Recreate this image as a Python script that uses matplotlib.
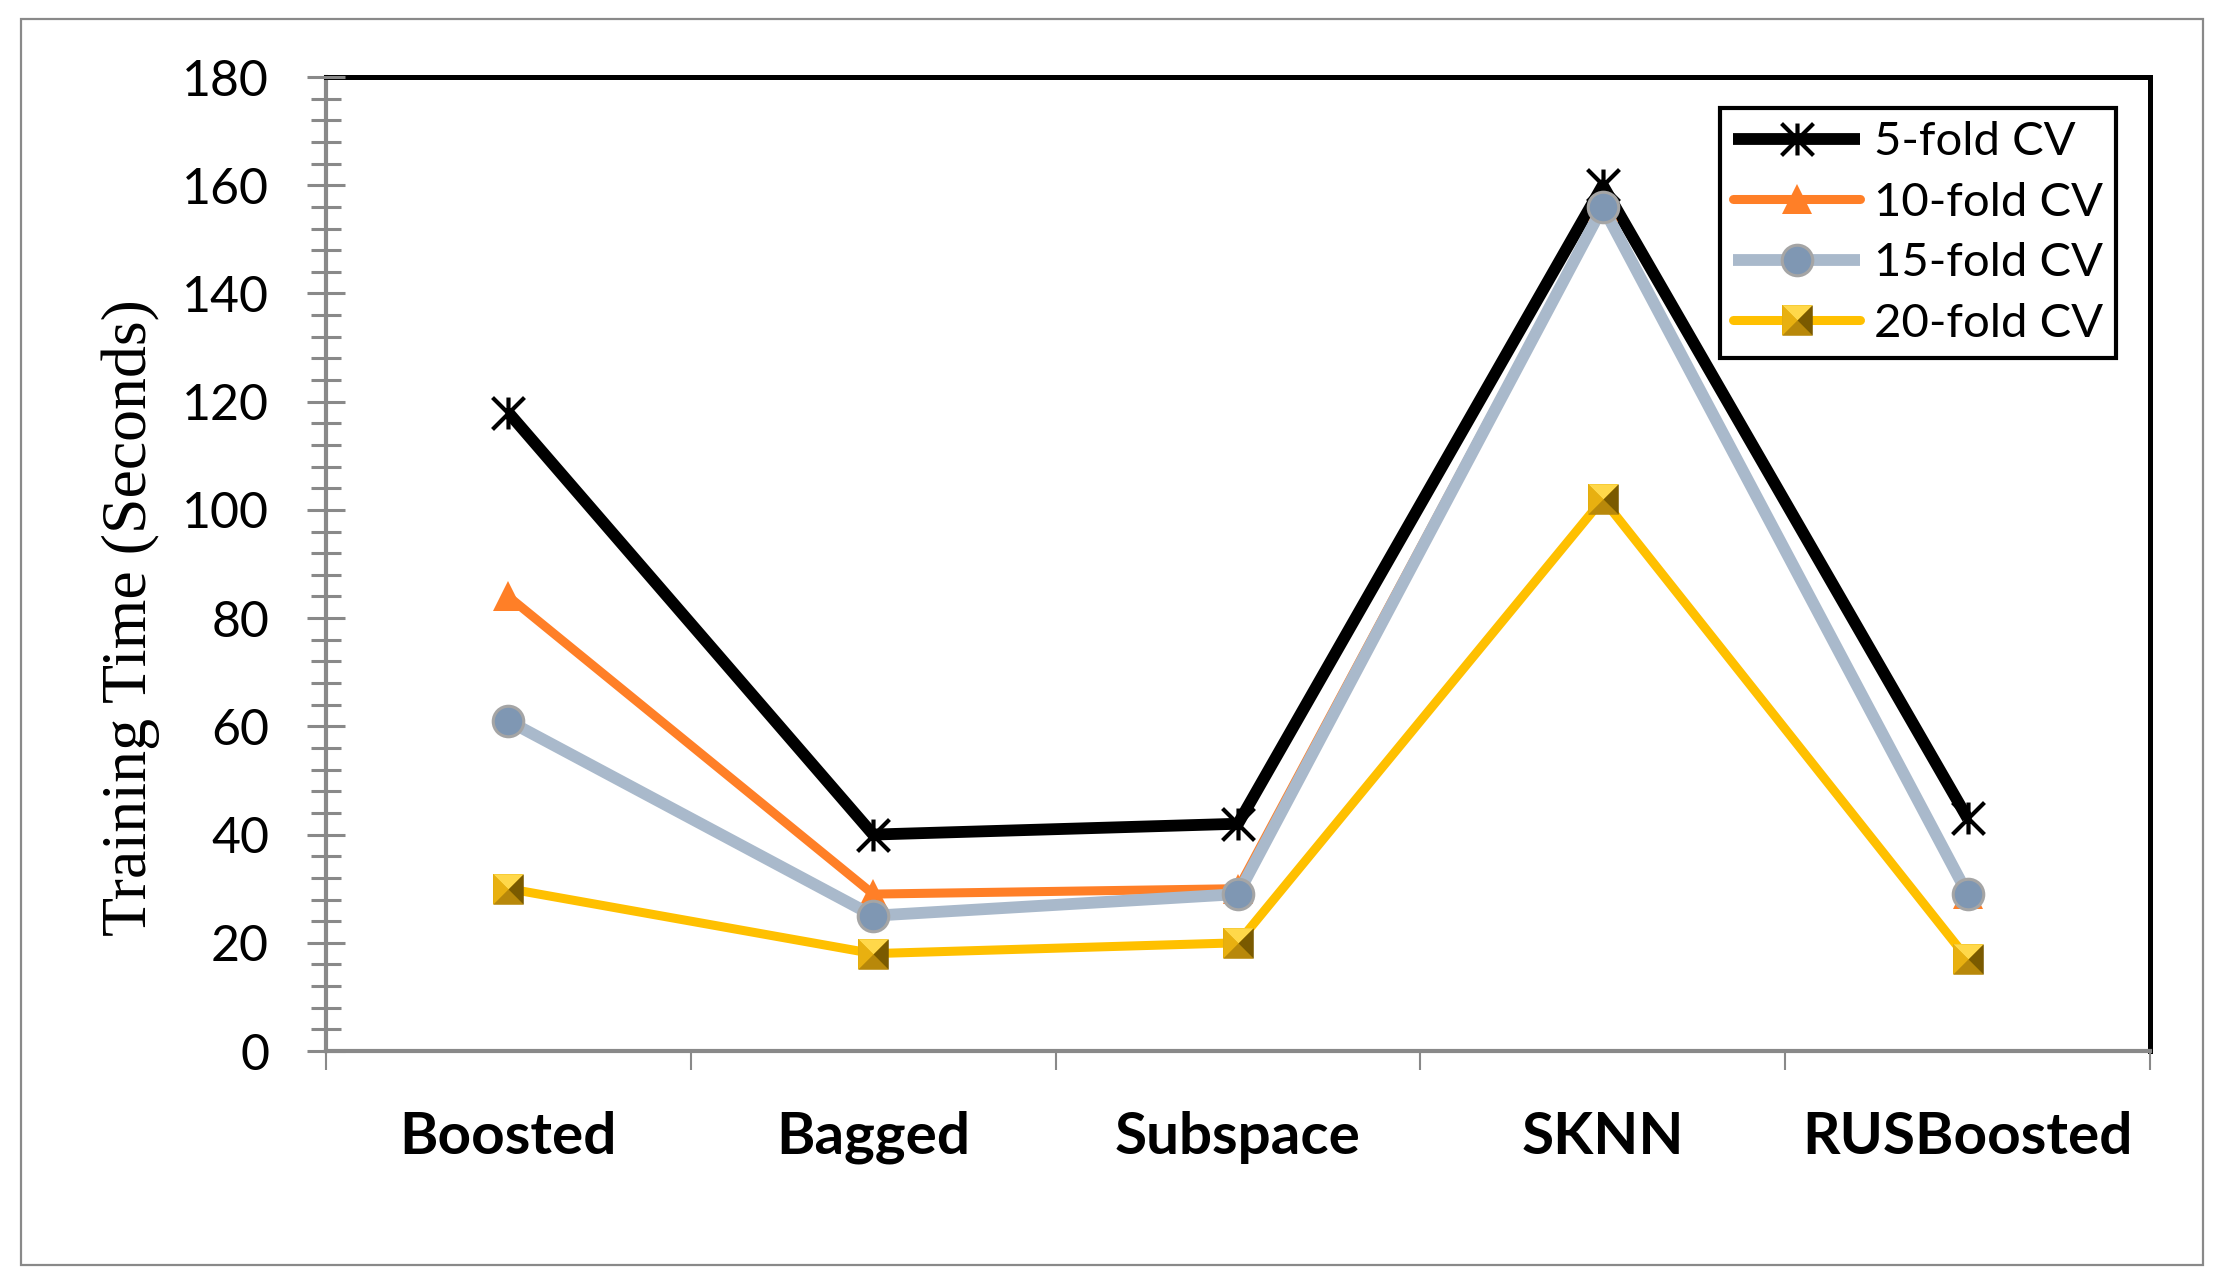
#!/usr/bin/env python3
"""Training time per ensemble classifier for several CV fold counts."""

import matplotlib
matplotlib.use('Agg')
import matplotlib.pyplot as plt
from matplotlib.path import Path
from matplotlib.patches import Rectangle
from matplotlib.legend_handler import HandlerTuple
from matplotlib.ticker import MultipleLocator, FixedLocator

# Data
classifiers = ['Boosted', 'Bagged', 'Subspace', 'SKNN', 'RUSBoosted']
cv5 = [118, 40, 42, 160, 43]
cv10 = [84, 29, 30, 156, 29]
cv15 = [61, 25, 29, 156, 29]
cv20 = [30, 18, 20, 102, 17]
series_names = ['5-fold CV', '10-fold CV', '15-fold CV', '20-fold CV']

GRAY = '#898989'

# asterisk made of a vertical bar and an X, like the spreadsheet marker
M, L = Path.MOVETO, Path.LINETO
asterisk = Path([(0, -1), (0, 1), (-1, -1), (1, 1), (-1, 1), (1, -1)],
                [M, L, M, L, M, L])

# four faces of a bevelled square ("pyramid" marker)
faces = [
    (Path([(-1, 1), (1, 1), (0, 0), (-1, 1)], closed=True), '#FFD84A'),   # top
    (Path([(-1, 1), (-1, -1), (0, 0), (-1, 1)], closed=True), '#E8B010'),  # left
    (Path([(-1, -1), (1, -1), (0, 0), (-1, -1)], closed=True), '#B8880A'),  # bottom
    (Path([(1, -1), (1, 1), (0, 0), (1, -1)], closed=True), '#7A5A00'),    # right
]


def main():
    fig = plt.figure(figsize=(22.25, 12.8), dpi=100)
    ax = fig.add_axes([0.1465, 0.1789, 0.9663 - 0.1465, 0.9398 - 0.1789])

    x = list(range(len(classifiers)))

    l5, = ax.plot(x, cv5, color='black', lw=8.5, solid_capstyle='butt',
                  marker=asterisk, ms=23, mec='black', mfc='black', mew=3)
    l10, = ax.plot(x, cv10, color='#FF7F27', lw=6.5, solid_capstyle='round',
                   marker='^', ms=22, mfc='#FF7F27', mec='#FF7F27', mew=0)
    l15, = ax.plot(x, cv15, color='#A9B9CB', lw=8.5, solid_capstyle='butt',
                   marker='o', ms=22, mfc='#7F97B3', mec='#A5A5A5', mew=2.2)
    l20, = ax.plot(x, cv20, color='#FFC000', lw=6.5, solid_capstyle='round',
                   marker='s', ms=22, mfc='#D9A400', mec='#8A6A00', mew=0)
    face_lines = []
    for path, col in faces:
        fl, = ax.plot(x, cv20, ls='none', marker=path, ms=22, mfc=col,
                      mec=col, mew=0)
        face_lines.append(fl)

    ax.set_xlim(-0.5, len(classifiers) - 0.5)
    ax.set_ylim(0, 180)

    # y axis: major every 20, minor every 4, ticks crossing the axis
    ax.yaxis.set_major_locator(MultipleLocator(20))
    ax.yaxis.set_minor_locator(MultipleLocator(4))
    ax.tick_params(axis='y', which='major', direction='inout', length=27,
                   width=2.2, color=GRAY, pad=27.5, labelsize=36)
    ax.tick_params(axis='y', which='minor', direction='inout', length=21,
                   width=2.2, color=GRAY)
    for lab in ax.get_yticklabels():
        lab.set_fontfamily('Lato')

    # x axis: labels at category centres, tick marks between categories
    ax.xaxis.set_major_locator(FixedLocator(x))
    ax.xaxis.set_minor_locator(FixedLocator([i - 0.5 for i in range(len(x) + 1)]))
    ax.set_xticklabels(classifiers, fontfamily='Lato', fontweight='bold',
                       fontsize=42)
    ax.tick_params(axis='x', which='major', length=0, pad=43)
    ax.tick_params(axis='x', which='minor', direction='out', length=14,
                   width=1.5, color=GRAY)

    ax.spines['left'].set_color(GRAY)
    ax.spines['left'].set_linewidth(3)
    ax.spines['bottom'].set_color(GRAY)
    ax.spines['bottom'].set_linewidth(3)
    ax.spines['top'].set_color('black')
    ax.spines['top'].set_linewidth(3.6)
    ax.spines['right'].set_color('black')
    ax.spines['right'].set_linewidth(3.6)
    for s in ax.spines.values():
        s.set_zorder(0.5)

    fig.text(0.0589, 0.5176, 'Training Time (Seconds)', rotation=90,
             ha='center', va='center', fontfamily='Liberation Serif',
             fontsize=46)

    handles = [l5, l10, l15, tuple([l20] + face_lines)]
    leg = ax.legend(handles, series_names,
                    handler_map={tuple: HandlerTuple(ndivide=1, pad=0)},
                    loc='upper right', bbox_to_anchor=(0.951, 0.9156),
                    bbox_transform=fig.transFigure, borderaxespad=0,
                    prop={'family': 'Lato', 'size': 34}, numpoints=1,
                    handlelength=2.7, handletextpad=0.28, labelspacing=0.39,
                    borderpad=0.28, fancybox=False, framealpha=1,
                    edgecolor='black')
    leg.get_frame().set_linewidth(3)

    # outer chart frame
    fig.patches.append(Rectangle((0.00944, 0.01172), 0.99011 - 0.00944,
                                 0.98516 - 0.01172, transform=fig.transFigure,
                                 fill=False, edgecolor=GRAY, lw=1.6))

    fig.savefig('out.png', dpi=100)


if __name__ == '__main__':
    main()
